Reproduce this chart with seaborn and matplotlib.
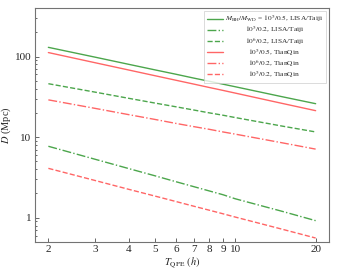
import numpy as np
import pandas as pd
import matplotlib
matplotlib.use("Agg")
import matplotlib.pyplot as plt
import matplotlib.ticker as mticker
import seaborn as sns

# ---- data ----
t_qpe = [2, 3, 4, 5, 6, 7, 8, 9, 10, 15, 20]
d_5_05_lisa = [130, 98, 80, 68.4, 60.3, 54, 49.3, 45.4, 42.2, 31.7, 26]
d_5_02_lisa = [7.7, 5.3, 4.07, 3.32, 2.8, 2.43, 2.15, 1.93, 1.72, 1.2, 0.92]
d_6_02_lisa = [46, 36.1, 30.3, 26.5, 23.8, 21.7, 20, 18.7, 17.5, 13.7, 11.6]
d_5_05_tq = [112, 83.6, 68, 57.9, 50.8, 45.5, 41.3, 38, 35.2, 26.2, 21.3]
d_6_02_tq = [29, 22.7, 19, 16.6, 14.8, 13.5, 12.5, 11.6, 10.9, 8.5, 7.1]
d_5_02_tq = [4.1, 2.89, 2.25, 1.86, 1.59, 1.39, 1.24, 1.12, 1.02, 0.72, 0.56]

labels = [
    r"$M_{\rm BH}/M_{\rm WD}$ = $10^5/0.5$, LISA/Taiji",
    r"$10^5/0.2$, LISA/Taiji",
    r"$10^6/0.2$, LISA/Taiji",
    r"$10^5/0.5$, TianQin",
    r"$10^6/0.2$, TianQin",
    r"$10^5/0.2$, TianQin",
]
x_ticks = [2, 3, 4, 5, 6, 7, 8, 9, 10, 20]
y_ticks = [1, 10, 100]

series = [d_5_05_lisa, d_5_02_lisa, d_6_02_lisa, d_5_05_tq, d_6_02_tq, d_5_02_tq]
colors = ["green", "green", "green", "red", "red", "red"]
alphas = [0.7, 0.7, 0.7, 0.6, 0.6, 0.6]
styles = ["-", "-.", "--", "-", "-.", "--"]

sns.set_style("ticks")
plt.rcParams["font.family"] = ["Liberation Serif", "DejaVu Serif"]
plt.rcParams["mathtext.fontset"] = "stix"

fig = plt.figure(figsize=(3.38, 2.74), dpi=100)
ax = fig.add_axes([35 / 338, 1 - 242 / 274, (329 - 35) / 338, (242 - 8) / 274])

for vals, lab, c, a, ls in zip(series, labels, colors, alphas, styles):
    df = pd.DataFrame({"T": t_qpe, "D": vals})
    sns.lineplot(data=df, x="T", y="D", ax=ax, color=c, alpha=a,
                 linestyle=ls, linewidth=1.0, label=lab)

ax.set_xscale("log")
ax.set_yscale("log")
ax.set_ylim(0.5, 400)
ax.xaxis.set_major_locator(mticker.FixedLocator(x_ticks))
ax.xaxis.set_major_formatter(mticker.FixedFormatter([str(v) for v in x_ticks]))
ax.xaxis.set_minor_locator(mticker.NullLocator())
ax.yaxis.set_major_locator(mticker.FixedLocator(y_ticks))
ax.yaxis.set_major_formatter(mticker.FixedFormatter([str(v) for v in y_ticks]))
ax.yaxis.set_minor_locator(mticker.LogLocator(base=10, subs=np.arange(2, 10)))
ax.yaxis.set_minor_formatter(mticker.NullFormatter())

ax.tick_params(axis="both", which="both", direction="in", labelsize=8,
               color="0.3", width=0.6, pad=2.5)
ax.tick_params(axis="both", which="major", length=3)
ax.tick_params(axis="both", which="minor", length=1.6)
for s in ax.spines.values():
    s.set_color("0.45")
    s.set_linewidth(0.8)

ax.set_xlabel(r"$T_{\rm QPE}$ $(h)$", fontsize=7.5, labelpad=1)
ax.set_ylabel(r"$D$ (Mpc)", fontsize=7.5, labelpad=1.5)

leg = ax.legend(loc="upper right", fontsize=5.3, frameon=True,
                handlelength=2.2, handletextpad=0.3, labelspacing=0.02,
                borderaxespad=0.35, borderpad=0.4, edgecolor="0.8",
                fancybox=False)
leg.get_frame().set_linewidth(0.6)

fig.canvas.draw()
texts = leg.get_texts()
r = fig.canvas.get_renderer()
widths = [t.get_window_extent(r).width for t in texts]
wmax = max(widths)
for t, w in zip(texts, widths):
    t.set_x((wmax - w) / 2)

fig.savefig("out.png", dpi=100)
